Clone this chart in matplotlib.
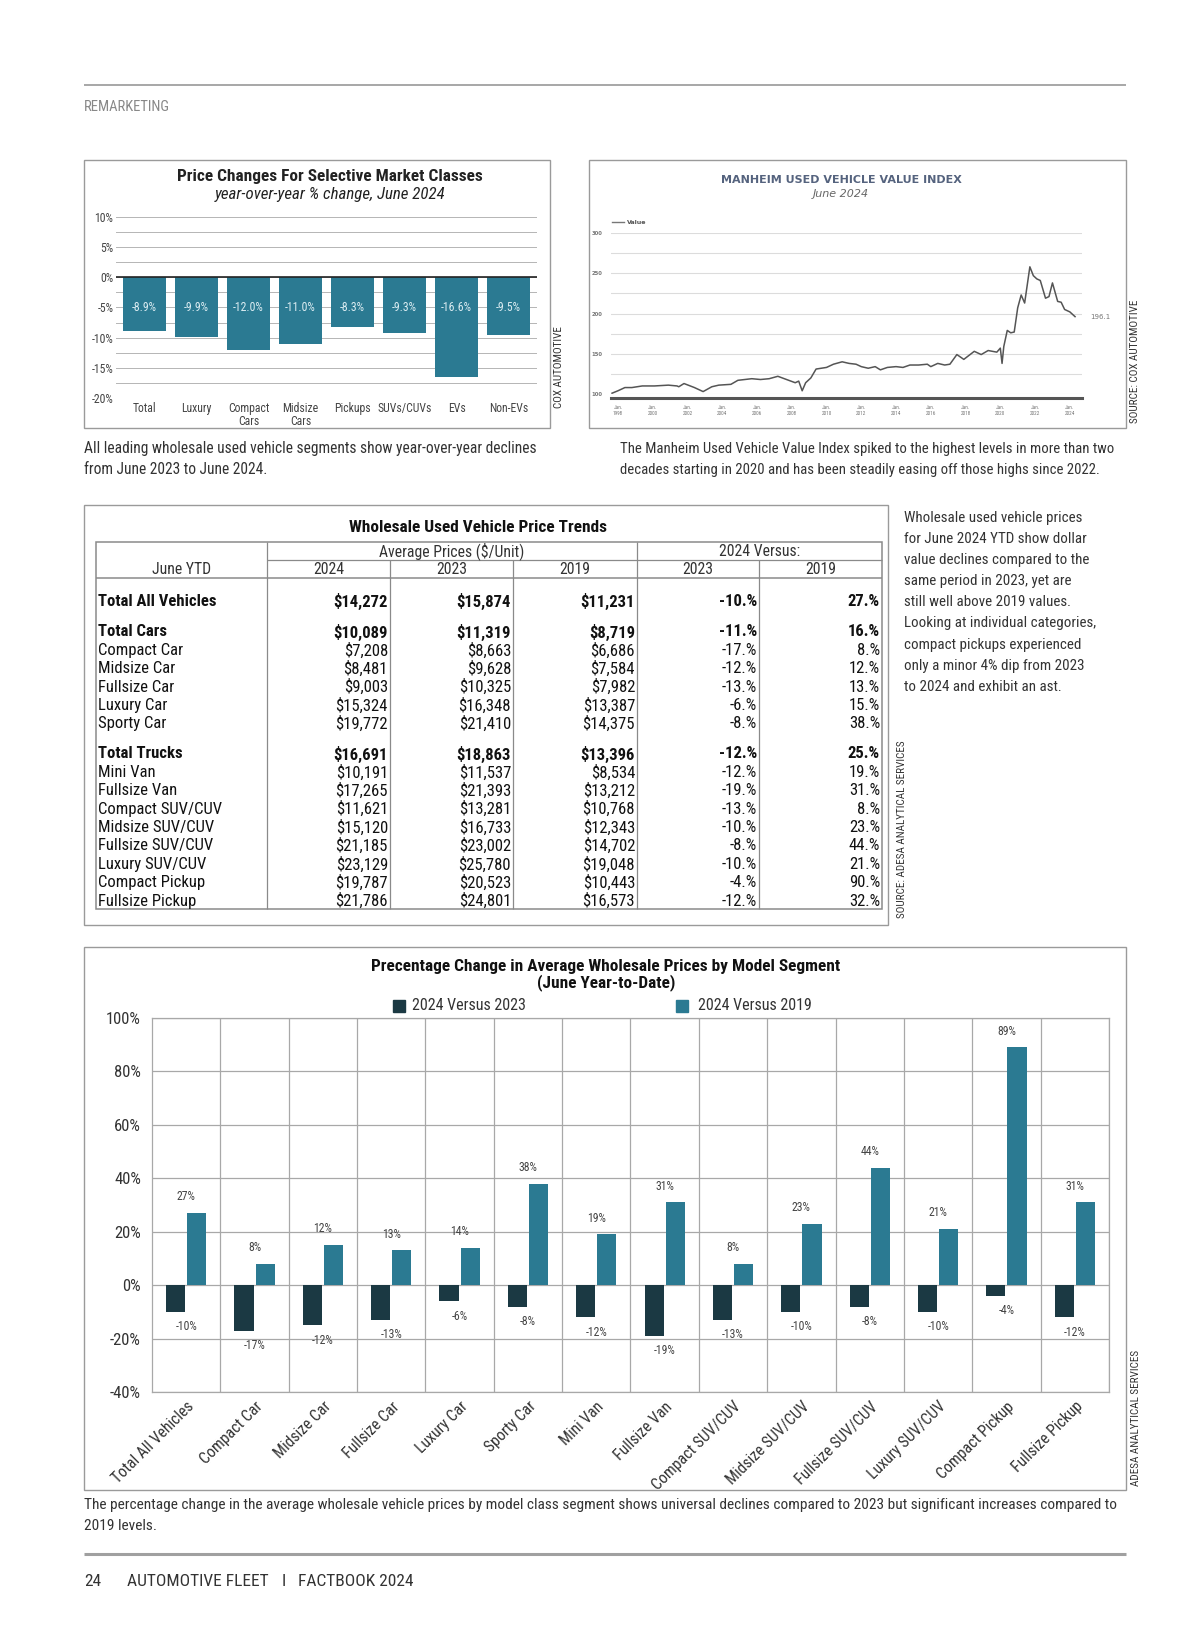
"""
Remarketing page: wholesale used vehicle prices
"""

import numpy as np
import matplotlib.pyplot as plt
from matplotlib import font_manager
from matplotlib.patches import Rectangle

W, H = 1200, 1638

# フォント (condensed があれば使う)
avail = {f.name for f in font_manager.fontManager.ttflist}
narrow = next((f for f in ['Liberation Sans Narrow', 'Roboto Condensed', 'Roboto']
               if f in avail), 'DejaVu Sans')
plt.rcParams['font.family'] = [narrow, 'DejaVu Sans']

# --- データ: 左上の棒グラフ ---
classes = ['Total', 'Luxury', 'Compact\nCars', 'Midsize\nCars', 'Pickups',
           'SUVs/CUVs', 'EVs', 'Non-EVs']
yoy_change = [-8.9, -9.9, -12.0, -11.0, -8.3, -9.3, -16.6, -9.5]

# --- データ: Manheim index ---
idx_year = [1997.66, 1998.0, 1998.4, 1998.8, 1999.4, 2000.1, 2000.9, 2001.4, 2001.5,
            2001.8, 2002.4, 2002.9, 2003.4, 2003.8, 2004.5, 2004.9, 2005.7, 2006.2,
            2006.7, 2007.2, 2007.7, 2008.2, 2008.4, 2008.6, 2008.8, 2009.1, 2009.4,
            2010.0, 2010.4, 2010.9, 2011.3, 2011.7, 2012.0, 2012.4, 2012.8, 2013.1,
            2013.5, 2014.0, 2014.4, 2014.8, 2015.3, 2015.8, 2016.0, 2016.4, 2016.8,
            2017.1, 2017.3, 2017.5, 2017.9, 2018.5, 2018.9, 2019.3, 2019.8, 2020.0,
            2020.1, 2020.2, 2020.4, 2020.6, 2020.8, 2021.0, 2021.2, 2021.4, 2021.7,
            2021.9, 2022.1, 2022.3, 2022.6, 2022.8, 2023.0, 2023.3, 2023.5, 2023.7,
            2024.0, 2024.3]
idx_value = [101, 104, 108, 108, 110, 110, 111, 110, 109,
             113, 108, 103, 109, 111, 112, 117, 119, 118,
             119, 122, 118, 114, 116, 104, 114, 120, 131,
             133, 137, 140, 138, 137, 134, 132, 134, 130,
             133, 134, 133, 136, 136, 137, 134, 138, 136,
             137, 143, 149, 143, 153, 149, 154, 152, 157,
             138, 159, 179, 176, 177, 207, 223, 213, 258,
             247, 243, 241, 219, 221, 238, 215, 214, 205,
             202, 196.1]
idx_ticks = [1998, 2000, 2002, 2004, 2006, 2008, 2010, 2012, 2014, 2016, 2018,
             2020, 2022, 2024]

# --- データ: 表 ---
row_names = ['Total All Vehicles', 'Total Cars', 'Compact Car', 'Midsize Car',
             'Fullsize Car', 'Luxury Car', 'Sporty Car', 'Total Trucks', 'Mini Van',
             'Fullsize Van', 'Compact SUV/CUV', 'Midsize SUV/CUV', 'Fullsize SUV/CUV',
             'Luxury SUV/CUV', 'Compact Pickup', 'Fullsize Pickup']
price_2024 = ['$14,272', '$10,089', '$7,208', '$8,481', '$9,003', '$15,324', '$19,772',
              '$16,691', '$10,191', '$17,265', '$11,621', '$15,120', '$21,185',
              '$23,129', '$19,787', '$21,786']
price_2023 = ['$15,874', '$11,319', '$8,663', '$9,628', '$10,325', '$16,348', '$21,410',
              '$18,863', '$11,537', '$21,393', '$13,281', '$16,733', '$23,002',
              '$25,780', '$20,523', '$24,801']
price_2019 = ['$11,231', '$8,719', '$6,686', '$7,584', '$7,982', '$13,387', '$14,375',
              '$13,396', '$8,534', '$13,212', '$10,768', '$12,343', '$14,702',
              '$19,048', '$10,443', '$16,573']
vs_2023 = ['-10.%', '-11.%', '-17.%', '-12.%', '-13.%', '-6.%', '-8.%', '-12.%', '-12.%',
           '-19.%', '-13.%', '-10.%', '-8.%', '-10.%', '-4.%', '-12.%']
vs_2019 = ['27.%', '16.%', '8.%', '12.%', '13.%', '15.%', '38.%', '25.%', '19.%', '31.%',
           '8.%', '23.%', '44.%', '21.%', '90.%', '32.%']
bold_rows = ['Total All Vehicles', 'Total Cars', 'Total Trucks']

# --- データ: 下の棒グラフ ---
segments = ['Total All Vehicles', 'Compact Car', 'Midsize Car', 'Fullsize Car',
            'Luxury Car', 'Sporty Car', 'Mini Van', 'Fullsize Van', 'Compact SUV/CUV',
            'Midsize SUV/CUV', 'Fullsize SUV/CUV', 'Luxury SUV/CUV', 'Compact Pickup',
            'Fullsize Pickup']
chg_vs_2023 = [-10, -17, -15, -13, -6, -8, -12, -19, -13, -10, -8, -10, -4, -12]
chg_vs_2019 = [27, 8, 15, 13, 14, 38, 19, 31, 8, 23, 44, 21, 89, 31]
lbl_vs_2023 = ['-10%', '-17%', '-12%', '-13%', '-6%', '-8%', '-12%', '-19%', '-13%',
               '-10%', '-8%', '-10%', '-4%', '-12%']
lbl_vs_2019 = ['27%', '8%', '12%', '13%', '14%', '38%', '19%', '31%', '8%', '23%',
               '44%', '21%', '89%', '31%']

TEXT = '#333333'
BOX = '#9a9a9a'
TEAL = '#2b7a92'
DARK = '#1b3943'


def px_axes(fig, x0, y0, x1, y1):
    return fig.add_axes([x0 / W, 1 - y1 / H, (x1 - x0) / W, (y1 - y0) / H])


fig = plt.figure(figsize=(W / 100, H / 100), dpi=100)
page = fig.add_axes([0, 0, 1, 1])
page.set_xlim(0, W)
page.set_ylim(H, 0)
page.axis('off')


def box(x0, y0, x1, y1, color=BOX, lw=1.0):
    page.add_patch(Rectangle((x0, y0), x1 - x0, y1 - y0, fill=False, ec=color, lw=lw))


def hline(y, x0, x1, color=BOX, lw=0.9):
    page.plot([x0, x1], [y, y], color=color, lw=lw, solid_capstyle='butt')


def vline(x, y0, y1, color=BOX, lw=0.9):
    page.plot([x, x], [y0, y1], color=color, lw=lw, solid_capstyle='butt')


# ページのヘッダ・フッタ
hline(85, 84, 1126, color='#a0a0a0', lw=1.3)
page.text(84, 107, 'REMARKETING', fontsize=10.5, color='#888888', va='center')
hline(1554, 84, 1126, color='#a0a0a0', lw=2.2)
page.text(84, 1582, '24', fontsize=12.5, color=TEXT, va='center')
page.text(127, 1582, 'AUTOMOTIVE FLEET', fontsize=12.5, color=TEXT, va='center')
page.text(282, 1582, 'I', fontsize=12.5, color=TEXT, va='center')
page.text(298, 1582, 'FACTBOOK 2024', fontsize=12.5, color=TEXT, va='center')

# ---------------- 左上: Price Changes ----------------
box(84, 160, 550, 428)
page.text(330, 177, 'Price Changes For Selective Market Classes', fontsize=12.4,
          fontweight='bold', ha='center', va='center', color='#222222')
page.text(330, 194, 'year-over-year % change, June 2024', fontsize=12.2,
          style='italic', ha='center', va='center', color='#222222')
page.text(559, 367, 'COX AUTOMOTIVE', fontsize=8, rotation=90, ha='center',
          va='center', color=TEXT)

ax1 = px_axes(fig, 116, 217, 537, 398)
ax1.set_facecolor('none')
x1 = np.arange(len(classes))
ax1.bar(x1, yoy_change, width=0.84, color=TEAL, zorder=2)
for xi, v in zip(x1, yoy_change):
    ax1.text(xi, -5, f'{v:.1f}%', ha='center', va='center', fontsize=8.5,
             color='#dcedf2', zorder=3)
ax1.set_xlim(-0.548, len(classes) - 1 + 0.548)
ax1.set_ylim(-20, 10)
ax1.set_yticks(np.arange(-20, 10.1, 2.5), minor=False)
ax1.set_yticklabels([f'{int(v)}%' if v % 5 == 0 else '' for v in np.arange(-20, 10.1, 2.5)])
ax1.grid(axis='y', color='#b5b5b5', lw=0.7, zorder=0)
ax1.axhline(0, color='#222222', lw=1.2, zorder=3)
ax1.set_xticks(x1)
ax1.set_xticklabels(classes, linespacing=1.0)
ax1.tick_params(axis='y', labelsize=8.5, labelcolor='#444444', length=0, pad=2)
ax1.tick_params(axis='x', labelsize=8.5, labelcolor='#444444', length=0, pad=3)
for s in ax1.spines.values():
    s.set_visible(False)

page.text(84, 449, 'All leading wholesale used vehicle segments show year-over-year declines',
          fontsize=11.2, color=TEXT, va='center')
page.text(84, 470, 'from June 2023 to June 2024.', fontsize=11.2, color=TEXT, va='center')

# ---------------- 右上: Manheim index ----------------
box(589, 160, 1126, 428)
page.text(841, 180, 'MANHEIM USED VEHICLE VALUE INDEX', fontsize=8, fontweight='bold',
          ha='center', va='center', color='#55637e', family='DejaVu Sans')
page.text(841, 194, 'June 2024', fontsize=8, style='italic', ha='center', va='center',
          color='#666666', family='DejaVu Sans')
page.plot([612, 624], [222, 222], color='#777777', lw=1)
page.text(627, 222, 'Value', fontsize=4.5, fontweight='bold', va='center',
          color='#555555', family='DejaVu Sans')
page.text(1135, 361, 'SOURCE: COX AUTOMOTIVE', fontsize=8, rotation=90, ha='center',
          va='center', color=TEXT)

ax2 = px_axes(fig, 611, 233, 1082, 394)
ax2.set_facecolor('none')
ax2.plot(idx_year, idx_value, color='#555555', lw=1.1, zorder=3)
ax2.text(idx_year[-1] + 0.9, idx_value[-1], f'{idx_value[-1]:.1f}', fontsize=5,
         color='#777777', va='center', family='DejaVu Sans')
ax2.set_xlim(1997.6, 2024.7)
ax2.set_ylim(100, 300)
ax2.set_yticks(np.arange(100, 301, 25))
ax2.set_yticklabels([str(v) if v % 50 == 0 else '' for v in range(100, 301, 25)])
ax2.grid(axis='y', color='#dcdcdc', lw=0.8, zorder=0)
ax2.set_xticks(idx_ticks)
ax2.set_xticklabels([f'Jan.\n{y}' for y in idx_ticks], linespacing=1.1)
ax2.tick_params(axis='y', labelsize=3.8, labelcolor='#777777', length=0, pad=6)
ax2.tick_params(axis='x', labelsize=3.8, labelcolor='#777777', length=0, pad=5)
for lab in ax2.get_xticklabels() + ax2.get_yticklabels():
    lab.set_fontweight('bold')
    lab.set_family('DejaVu Sans')
for s in ['top', 'right', 'left']:
    ax2.spines[s].set_visible(False)
ax2.spines['bottom'].set_color('#555555')
ax2.spines['bottom'].set_linewidth(2.2)
ax2.spines['bottom'].set_position(('outward', 3))

page.text(620, 449, 'The Manheim Used Vehicle Value Index spiked to the highest levels in more than two',
          fontsize=10.6, color=TEXT, va='center')
page.text(620, 470, 'decades starting in 2020 and has been steadily easing off those highs since 2022.',
          fontsize=10.6, color=TEXT, va='center')

# ---------------- 表 ----------------
box(84, 505, 888, 925)
page.text(478, 528, 'Wholesale Used Vehicle Price Trends', fontsize=12.4, fontweight='bold',
          ha='center', va='center', color='#111111')
tx = [96, 267, 390, 513, 637, 759, 882]
t_top, t_mid, t_head, t_bot = 542, 560, 578, 909
box(tx[0], t_top, tx[-1], t_bot, color='#8a8a8a', lw=1.1)
hline(t_mid, tx[1], tx[-1], color='#8a8a8a')
hline(t_head, tx[0], tx[-1], color='#8a8a8a', lw=1.1)
for xv in [tx[1], tx[4]]:
    vline(xv, t_top, t_bot, color='#8a8a8a')
for xv in [tx[2], tx[3], tx[5]]:
    vline(xv, t_mid, t_bot, color='#8a8a8a')
page.text((tx[1] + tx[4]) / 2, 551, 'Average Prices ($/Unit)', fontsize=11.3, ha='center',
          va='center', color=TEXT)
page.text((tx[4] + tx[6]) / 2, 551, '2024 Versus:', fontsize=11.3, ha='center',
          va='center', color=TEXT)
page.text((tx[0] + tx[1]) / 2, 570, 'June YTD', fontsize=11.3, ha='center', va='center',
          color=TEXT)
for i, lab in enumerate(['2024', '2023', '2019', '2023', '2019']):
    page.text((tx[i + 1] + tx[i + 2]) / 2, 570, lab, fontsize=11.3, ha='center',
              va='center', color=TEXT)

y = 601 - 31
step = 18.4
for i, name in enumerate(row_names):
    if name in bold_rows:
        y += 31 if i < 2 else 30
    else:
        y += step
    fw = 'bold' if name in bold_rows else 'normal'
    col = '#111111'
    page.text(98, y, name, fontsize=12, fontweight=fw, va='center', color=col)
    cells = [price_2024[i], price_2023[i], price_2019[i], vs_2023[i], vs_2019[i]]
    for j, c in enumerate(cells):
        page.text(tx[j + 2] - 2, y, c, fontsize=12, fontweight=fw, ha='right',
                  va='center', color=col)

page.text(902, 829, 'SOURCE: ADESA ANALYTICAL SERVICES', fontsize=8, rotation=90,
          ha='center', va='center', color=TEXT)

side_lines = ['Wholesale used vehicle prices', 'for June 2024 YTD show dollar',
              'value declines compared to the', 'same period in 2023, yet are',
              'still well above 2019 values.', 'Looking at individual categories,',
              'compact pickups experienced', 'only a minor 4% dip from 2023',
              'to 2024 and exhibit an ast.']
for i, line in enumerate(side_lines):
    page.text(904, 518 + i * 21.1, line, fontsize=10.8, color=TEXT, va='center')

# ---------------- 下: 棒グラフ ----------------
box(84, 947, 1126, 1490)
page.text(606, 966, 'Precentage Change in Average Wholesale Prices by Model Segment',
          fontsize=12.4, fontweight='bold', ha='center', va='center', color='#111111')
page.text(606, 983, '(June Year-to-Date)', fontsize=12.4, fontweight='bold', ha='center',
          va='center', color='#111111')
page.add_patch(Rectangle((393, 1000), 12, 12, color=DARK))
page.text(412, 1006, '2024 Versus 2023', fontsize=11.5, va='center', color=TEXT)
page.add_patch(Rectangle((676, 1000), 12, 12, color=TEAL))
page.text(698, 1006, '2024 Versus 2019', fontsize=11.5, va='center', color=TEXT)
page.text(1136, 1418, 'ADESA ANALYTICAL SERVICES', fontsize=8, rotation=90,
          ha='center', va='center', color=TEXT)

ax3 = px_axes(fig, 152, 1018, 1109, 1392)
ax3.set_facecolor('none')
x3 = np.arange(len(segments))
ax3.bar(x3 - 0.155, chg_vs_2023, width=0.28, color=DARK, zorder=3)
ax3.bar(x3 + 0.155, chg_vs_2019, width=0.28, color=TEAL, zorder=3)
for xi, v, lab in zip(x3, chg_vs_2019, lbl_vs_2019):
    ax3.annotate(lab, (xi, v), xytext=(0, 7), textcoords='offset points', ha='center',
                 va='bottom', fontsize=8.5, color='#444444')
for xi, v, lab in zip(x3, chg_vs_2023, lbl_vs_2023):
    ax3.annotate(lab, (xi, v), xytext=(0, -6), textcoords='offset points', ha='center',
                 va='top', fontsize=8.5, color='#444444')
ax3.set_xlim(-0.5, len(segments) - 0.5)
ax3.set_ylim(-40, 100)
ax3.set_yticks(np.arange(-40, 101, 20))
ax3.set_yticklabels([f'{v}%' for v in range(-40, 101, 20)])
ax3.set_xticks(x3 + 0.5, minor=True)
ax3.grid(axis='y', which='major', color='#a8a8a8', lw=0.9, zorder=0)
ax3.grid(axis='x', which='minor', color='#a8a8a8', lw=0.9, zorder=0)
ax3.set_xticks(x3)
ax3.set_xticklabels(segments, rotation=45, ha='right', rotation_mode='anchor')
ax3.tick_params(axis='y', labelsize=12, labelcolor=TEXT, length=0, pad=8)
ax3.tick_params(axis='x', which='both', labelsize=11.3, labelcolor=TEXT, length=0, pad=5)
for s in ax3.spines.values():
    s.set_color('#a8a8a8')
    s.set_linewidth(0.9)

page.text(84, 1505, 'The percentage change in the average wholesale vehicle prices by model class '
          'segment shows universal declines compared to 2023 but significant increases compared to',
          fontsize=11.05, color=TEXT, va='center')
page.text(84, 1526, '2019 levels.', fontsize=11.05, color=TEXT, va='center')

fig.savefig('out.png', dpi=100)
plt.close(fig)
